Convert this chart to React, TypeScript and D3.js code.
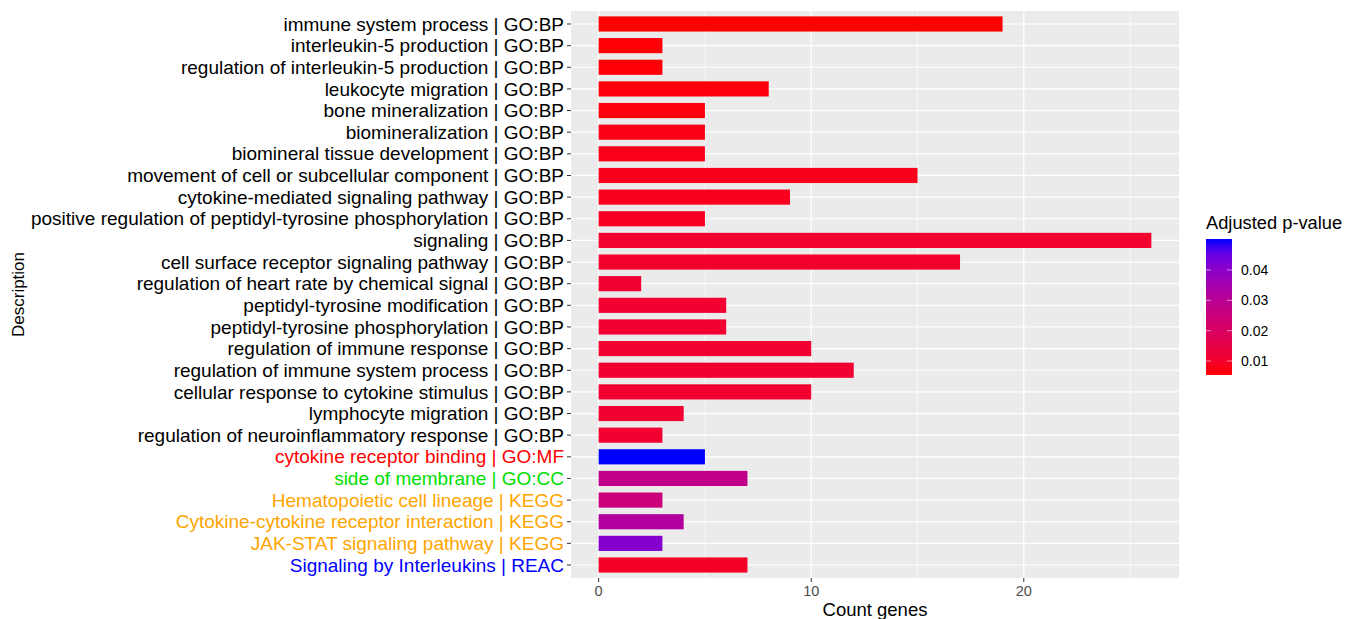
import React from "react";
import * as d3 from "d3";

// Enrichment terms, top to bottom
const terms = [
  "immune system process | GO:BP",
  "interleukin-5 production | GO:BP",
  "regulation of interleukin-5 production | GO:BP",
  "leukocyte migration | GO:BP",
  "bone mineralization | GO:BP",
  "biomineralization | GO:BP",
  "biomineral tissue development | GO:BP",
  "movement of cell or subcellular component | GO:BP",
  "cytokine-mediated signaling pathway | GO:BP",
  "positive regulation of peptidyl-tyrosine phosphorylation | GO:BP",
  "signaling | GO:BP",
  "cell surface receptor signaling pathway | GO:BP",
  "regulation of heart rate by chemical signal | GO:BP",
  "peptidyl-tyrosine modification | GO:BP",
  "peptidyl-tyrosine phosphorylation | GO:BP",
  "regulation of immune response | GO:BP",
  "regulation of immune system process | GO:BP",
  "cellular response to cytokine stimulus | GO:BP",
  "lymphocyte migration | GO:BP",
  "regulation of neuroinflammatory response | GO:BP",
  "cytokine receptor binding | GO:MF",
  "side of membrane | GO:CC",
  "Hematopoietic cell lineage | KEGG",
  "Cytokine-cytokine receptor interaction | KEGG",
  "JAK-STAT signaling pathway | KEGG",
  "Signaling by Interleukins | REAC",
];
const counts = [19, 3, 3, 8, 5, 5, 5, 15, 9, 5, 26, 17, 2, 6, 6, 10, 12, 10, 4, 3, 5, 7, 3, 4, 3, 7];
const padj = [
  0.0054, 0.0058, 0.0058, 0.0062, 0.0066, 0.0072, 0.0074, 0.0078, 0.008, 0.0085,
  0.0105, 0.0105, 0.011, 0.011, 0.011, 0.011, 0.011, 0.011, 0.011, 0.011,
  0.0502, 0.028, 0.025, 0.032, 0.041, 0.0095,
];
// Label colour by source database
const sources = ["GO:BP", "GO:MF", "GO:CC", "KEGG", "REAC"];
const sourceColors = ["#000000", "#FF0000", "#00E000", "#FFA500", "#0000FF"];

const xTicks = [0, 10, 20];
const xMinor = [5, 15, 25];
const legendTicks = [0.01, 0.02, 0.03, 0.04];

const W = 1357;
const H = 619;
const panel = { left: 571, right: 1179, top: 11, bottom: 578 };

export default function App() {
  const maxCount = d3.max(counts) as number;
  const x = d3
    .scaleLinear()
    .domain([-0.05 * maxCount, maxCount * 1.05])
    .range([panel.left, panel.right]);
  const y = d3
    .scaleBand<string>()
    .domain(terms)
    .range([panel.top, panel.bottom])
    .paddingInner(0)
    .paddingOuter(0.1);
  const step = y.step();
  const barH = step * 0.7;

  const pExtent = d3.extent(padj) as [number, number];
  const color = d3
    .scaleLinear<string>()
    .domain(pExtent)
    .range(["#FF0000", "#0000FF"])
    .interpolate(d3.interpolateLab);

  const legend = { x: 1206, top: 239, bottom: 375, w: 26 };
  const ly = d3.scaleLinear().domain(pExtent).range([legend.bottom, legend.top]);
  const gradStops = d3.range(0, 1.0001, 0.1);

  const sourceColor = d3.scaleOrdinal<string, string>().domain(sources).range(sourceColors);
  const font = "Liberation Sans, Arial, sans-serif";

  return (
    <svg width={W} height={H} style={{ position: "absolute", left: 0, top: 0, background: "#fff" }}>
      <defs>
        <linearGradient id="pgrad" x1="0" y1="1" x2="0" y2="0">
          {gradStops.map((t) => (
            <stop key={t} offset={t} stopColor={color(pExtent[0] + t * (pExtent[1] - pExtent[0]))} />
          ))}
        </linearGradient>
      </defs>
      {/* panel */}
      <rect x={panel.left} y={panel.top} width={panel.right - panel.left} height={panel.bottom - panel.top} fill="#EBEBEB" />
      {xMinor.map((v) => (
        <line key={"mn" + v} x1={x(v)} x2={x(v)} y1={panel.top} y2={panel.bottom} stroke="#fff" strokeWidth={0.6} />
      ))}
      {xTicks.map((v) => (
        <line key={"mj" + v} x1={x(v)} x2={x(v)} y1={panel.top} y2={panel.bottom} stroke="#fff" strokeWidth={1.2} />
      ))}
      {terms.map((t) => (
        <line
          key={"hg" + t}
          x1={panel.left}
          x2={panel.right}
          y1={(y(t) as number) + step / 2}
          y2={(y(t) as number) + step / 2}
          stroke="#fff"
          strokeWidth={1.2}
        />
      ))}
      {/* bars */}
      {terms.map((t, i) => (
        <rect
          key={"b" + t}
          x={x(0)}
          y={(y(t) as number) + (step - barH) / 2}
          width={x(counts[i]) - x(0)}
          height={barH}
          fill={color(padj[i])}
        />
      ))}
      {/* y axis */}
      {terms.map((t) => {
        const cy = (y(t) as number) + step / 2;
        const src = t.split("| ")[1];
        return (
          <g key={"yl" + t}>
            <line x1={panel.left - 4} x2={panel.left} y1={cy} y2={cy} stroke="#333" strokeWidth={1} />
            <text
              x={panel.left - 7}
              y={cy}
              dy="0.35em"
              textAnchor="end"
              fontFamily={font}
              fontSize={19}
              fill={sourceColor(src)}
            >
              {t}
            </text>
          </g>
        );
      })}
      {/* x axis */}
      {xTicks.map((v) => (
        <g key={"xt" + v}>
          <line x1={x(v)} x2={x(v)} y1={panel.bottom} y2={panel.bottom + 4} stroke="#333" strokeWidth={1} />
          <text x={x(v)} y={panel.bottom + 18} textAnchor="middle" fontFamily={font} fontSize={14.5} fill="#4D4D4D">
            {v}
          </text>
        </g>
      ))}
      <text x={(panel.left + panel.right) / 2} y={616} textAnchor="middle" fontFamily={font} fontSize={18.5} fill="#000">
        Count  genes
      </text>
      <text
        transform={`translate(24,${(panel.top + panel.bottom) / 2}) rotate(-90)`}
        textAnchor="middle"
        fontFamily={font}
        fontSize={17}
        fill="#000"
      >
        Description
      </text>
      {/* colour legend */}
      <text x={legend.x} y={229} fontFamily={font} fontSize={18.3} fill="#000">
        Adjusted p-value
      </text>
      <rect x={legend.x} y={legend.top} width={legend.w} height={legend.bottom - legend.top} fill="url(#pgrad)" />
      {legendTicks.map((v) => (
        <g key={"lt" + v}>
          <line x1={legend.x} x2={legend.x + 5} y1={ly(v)} y2={ly(v)} stroke="#fff" strokeWidth={0.8} opacity={0.7} />
          <line x1={legend.x + legend.w - 5} x2={legend.x + legend.w} y1={ly(v)} y2={ly(v)} stroke="#fff" strokeWidth={0.8} opacity={0.7} />
          <text x={legend.x + legend.w + 9} y={ly(v)} dy="0.35em" fontFamily={font} fontSize={14} fill="#000">
            {v.toFixed(2)}
          </text>
        </g>
      ))}
    </svg>
  );
}
